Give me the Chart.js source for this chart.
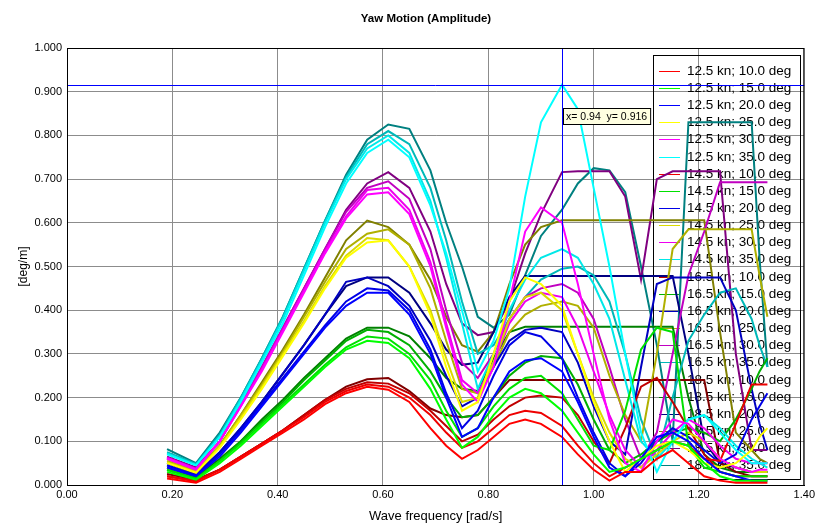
<!DOCTYPE html>
<html><head><meta charset="utf-8">
<script src="https://cdn.jsdelivr.net/npm/chart.js@4/dist/chart.umd.min.js"></script>
<style>html,body{margin:0;padding:0;background:#fff}#wrap{width:818px;height:527px;position:relative}</style>
</head><body><div id="wrap"><canvas id="c" width="818" height="527"></canvas></div>
<script>
// Wave frequencies [rad/s]
const freq = [0.19,0.245,0.29,0.33,0.37,0.41,0.45,0.49,0.53,0.57,0.61,0.65,0.69,0.72,0.75,0.78,0.81,0.84,0.87,0.90,0.94,0.97,1.00,1.03,1.06,1.09,1.12,1.15,1.18,1.21,1.24,1.27,1.30,1.315,1.33];
const speeds = ['12.5','14.5','16.5','18.5'];
const headings = ['10.0','15.0','20.0','25.0','30.0','35.0'];
const xTicks = [0,0.2,0.4,0.6,0.8,1.0,1.2,1.4];
const cursorX = 0.94, cursorY = 0.916;

// 12.5 kn
const s125_h10 = [0.015,0.005,0.03,0.06,0.09,0.12,0.15,0.185,0.21,0.225,0.218,0.19,0.13,0.09,0.06,0.08,0.11,0.14,0.15,0.14,0.11,0.07,0.035,0.01,0.03,0.03,0.06,0.08,0.05,0.02,0.01,0.005,0.005,0.005,0.005];
const s125_h15 = [0.03,0.012,0.05,0.09,0.135,0.18,0.225,0.27,0.31,0.33,0.325,0.29,0.22,0.15,0.085,0.11,0.16,0.2,0.22,0.21,0.17,0.12,0.07,0.03,0.04,0.06,0.08,0.1,0.09,0.05,0.02,0.01,0.01,0.01,0.01];
const s125_h20 = [0.04,0.02,0.065,0.12,0.18,0.24,0.3,0.36,0.41,0.44,0.44,0.39,0.3,0.2,0.11,0.13,0.2,0.26,0.285,0.29,0.26,0.19,0.11,0.04,0.02,0.06,0.11,0.12,0.1,0.06,0.03,0.02,0.01,0.01,0.01];
const s125_h25 = [0.05,0.028,0.085,0.15,0.22,0.295,0.37,0.45,0.52,0.555,0.56,0.5,0.39,0.27,0.17,0.19,0.3,0.42,0.475,0.46,0.41,0.3,0.19,0.1,0.03,0.06,0.09,0.1,0.08,0.05,0.04,0.05,0.08,0.11,0.13];
const s125_h30 = [0.06,0.035,0.1,0.18,0.26,0.35,0.44,0.53,0.61,0.665,0.67,0.62,0.5,0.36,0.23,0.19,0.27,0.42,0.58,0.635,0.6,0.46,0.3,0.15,0.05,0.03,0.1,0.15,0.14,0.1,0.06,0.04,0.03,0.035,0.035];
const s125_h35 = [0.07,0.045,0.11,0.19,0.28,0.37,0.48,0.59,0.69,0.76,0.79,0.75,0.64,0.53,0.40,0.26,0.33,0.45,0.66,0.83,0.916,0.86,0.68,0.5,0.3,0.12,0.03,0.1,0.15,0.16,0.12,0.08,0.05,0.05,0.05];
// 14.5 kn
const s145_h10 = [0.02,0.008,0.035,0.065,0.095,0.125,0.155,0.19,0.215,0.23,0.225,0.2,0.16,0.12,0.085,0.1,0.13,0.16,0.17,0.165,0.135,0.09,0.05,0.02,0.04,0.06,0.08,0.1,0.09,0.06,0.055,0.14,0.23,0.23,0.23];
const s145_h15 = [0.035,0.015,0.055,0.095,0.14,0.185,0.23,0.275,0.315,0.34,0.335,0.3,0.24,0.17,0.11,0.13,0.18,0.22,0.245,0.25,0.21,0.15,0.09,0.08,0.17,0.31,0.36,0.35,0.09,0.04,0.03,0.02,0.02,0.02,0.02];
const s145_h20 = [0.045,0.022,0.07,0.125,0.185,0.245,0.305,0.365,0.42,0.45,0.445,0.4,0.31,0.21,0.13,0.17,0.25,0.32,0.35,0.34,0.29,0.2,0.12,0.05,0.02,0.05,0.1,0.13,0.11,0.08,0.05,0.07,0.15,0.18,0.21];
const s145_h25 = [0.052,0.03,0.088,0.155,0.225,0.3,0.375,0.455,0.525,0.565,0.56,0.5,0.4,0.29,0.19,0.2,0.28,0.38,0.43,0.44,0.4,0.3,0.2,0.12,0.06,0.04,0.07,0.1,0.12,0.1,0.06,0.04,0.03,0.03,0.03];
const s145_h30 = [0.062,0.037,0.1,0.18,0.265,0.355,0.445,0.535,0.615,0.675,0.68,0.63,0.51,0.37,0.24,0.21,0.28,0.37,0.42,0.44,0.43,0.36,0.26,0.16,0.08,0.04,0.08,0.12,0.15,0.13,0.09,0.06,0.05,0.05,0.05];
const s145_h35 = [0.072,0.046,0.11,0.195,0.285,0.38,0.49,0.6,0.7,0.77,0.8,0.76,0.65,0.52,0.37,0.22,0.3,0.4,0.47,0.52,0.54,0.52,0.46,0.38,0.24,0.1,0.06,0.1,0.15,0.16,0.13,0.09,0.06,0.05,0.04];
// 16.5 kn
const s165_h10 = [0.02,0.01,0.035,0.065,0.095,0.125,0.16,0.195,0.22,0.235,0.232,0.21,0.17,0.135,0.1,0.115,0.15,0.18,0.2,0.205,0.2,0.16,0.1,0.05,0.13,0.225,0.245,0.19,0.13,0.07,0.03,0.02,0.02,0.02,0.02];
const s165_h15 = [0.035,0.015,0.055,0.1,0.145,0.19,0.24,0.285,0.33,0.355,0.35,0.32,0.26,0.2,0.155,0.16,0.2,0.25,0.28,0.295,0.29,0.23,0.15,0.08,0.05,0.07,0.1,0.12,0.13,0.12,0.1,0.15,0.22,0.26,0.29];
const s165_h20 = [0.045,0.022,0.075,0.13,0.19,0.255,0.32,0.39,0.465,0.475,0.455,0.41,0.33,0.25,0.18,0.2,0.27,0.33,0.355,0.36,0.35,0.28,0.18,0.1,0.07,0.27,0.46,0.475,0.475,0.475,0.475,0.4,0.22,0.14,0.08];
const s165_h25 = [0.055,0.032,0.09,0.16,0.23,0.305,0.385,0.465,0.54,0.575,0.585,0.55,0.45,0.33,0.22,0.21,0.27,0.35,0.39,0.41,0.42,0.41,0.36,0.25,0.16,0.1,0.3,0.54,0.585,0.585,0.585,0.585,0.585,0.48,0.385];
const s165_h30 = [0.063,0.038,0.1,0.185,0.27,0.36,0.45,0.54,0.625,0.68,0.695,0.655,0.54,0.4,0.28,0.245,0.3,0.38,0.43,0.45,0.46,0.44,0.38,0.27,0.15,0.06,0.12,0.3,0.48,0.58,0.693,0.693,0.693,0.693,0.693];
const s165_h35 = [0.075,0.048,0.115,0.2,0.29,0.385,0.495,0.605,0.705,0.78,0.81,0.78,0.68,0.56,0.42,0.3,0.32,0.38,0.43,0.47,0.495,0.5,0.48,0.42,0.3,0.15,0.06,0.2,0.33,0.39,0.44,0.45,0.38,0.32,0.27];
// 18.5 kn
const s185_h10 = [0.025,0.012,0.035,0.065,0.095,0.125,0.16,0.195,0.225,0.242,0.245,0.215,0.175,0.16,0.155,0.16,0.2,0.24,0.24,0.24,0.24,0.24,0.24,0.24,0.24,0.24,0.24,0.24,0.24,0.24,0.05,0.03,0.02,0.02,0.02];
const s185_h15 = [0.04,0.018,0.06,0.1,0.15,0.195,0.245,0.29,0.335,0.36,0.36,0.34,0.29,0.245,0.22,0.215,0.29,0.35,0.362,0.362,0.362,0.362,0.362,0.362,0.362,0.362,0.362,0.362,0.2,0.07,0.04,0.03,0.03,0.03,0.03];
const s185_h20 = [0.05,0.025,0.075,0.13,0.19,0.255,0.32,0.39,0.455,0.475,0.475,0.44,0.37,0.31,0.275,0.28,0.35,0.43,0.478,0.478,0.478,0.478,0.478,0.478,0.478,0.478,0.478,0.478,0.3,0.1,0.05,0.04,0.03,0.03,0.03];
const s185_h25 = [0.06,0.035,0.09,0.16,0.235,0.31,0.39,0.475,0.56,0.605,0.59,0.55,0.47,0.385,0.32,0.305,0.35,0.46,0.55,0.59,0.606,0.606,0.606,0.606,0.606,0.606,0.606,0.606,0.606,0.606,0.35,0.12,0.08,0.06,0.05];
const s185_h30 = [0.065,0.04,0.1,0.185,0.27,0.36,0.45,0.54,0.63,0.69,0.716,0.68,0.58,0.46,0.37,0.343,0.35,0.42,0.53,0.62,0.716,0.718,0.718,0.718,0.66,0.47,0.7,0.718,0.718,0.718,0.718,0.3,0.08,0.08,0.08];
const s185_h35 = [0.082,0.05,0.12,0.2,0.29,0.385,0.495,0.605,0.71,0.79,0.825,0.815,0.72,0.6,0.5,0.385,0.36,0.39,0.48,0.57,0.63,0.69,0.725,0.72,0.67,0.5,0.32,0.1,0.83,0.83,0.83,0.83,0.83,0.52,0.27];

const seriesValues = [
  s125_h10,s125_h15,s125_h20,s125_h25,s125_h30,s125_h35,
  s145_h10,s145_h15,s145_h20,s145_h25,s145_h30,s145_h35,
  s165_h10,s165_h15,s165_h20,s165_h25,s165_h30,s165_h35,
  s185_h10,s185_h15,s185_h20,s185_h25,s185_h30,s185_h35
];
const seriesColors = [
  '#ff0000','#00ff00','#0000ff','#ffff00','#ff00ff','#00ffff',
  '#ee0000','#00e000','#0000e6','#dada00','#ee00ee','#00e8e8',
  '#c00000','#00b000','#0000c0','#b0b000','#c000c0','#00b8b8',
  '#800000','#008000','#000080','#808000','#800080','#008080'
];

const datasets = [];
speeds.forEach((s, si) => headings.forEach((h, hi) => {
  const k = si * headings.length + hi;
  datasets.push({
    label: s + ' kn; ' + h + ' deg',
    data: freq.map((f, i) => ({x: f, y: seriesValues[k][i]})),
    borderColor: seriesColors[k],
    backgroundColor: seriesColors[k],
    borderWidth: 2,
    pointRadius: 0,
    tension: 0,
    fill: false
  });
}));

const FONT = '"Liberation Sans", Arial, sans-serif';

const framePlugin = {
  id: 'frame',
  beforeDatasetsDraw(chart) {
    const {ctx} = chart;
    ctx.save();
    // legend (transparent, under the curves)
    const lx = 653, ly = 55, lw = 147, lh = 424;
    ctx.strokeStyle = '#000'; ctx.lineWidth = 1;
    ctx.strokeRect(lx + 0.5, ly + 0.5, lw, lh);
    ctx.font = '13.5px ' + FONT;
    ctx.textBaseline = 'middle'; ctx.textAlign = 'left'; ctx.fillStyle = '#000';
    chart.data.datasets.forEach((d, i) => {
      const y = Math.round(70.7 + i * 17.16) + 0.5;
      ctx.strokeStyle = d.borderColor; ctx.lineWidth = 1;
      ctx.beginPath(); ctx.moveTo(659, y); ctx.lineTo(680, y); ctx.stroke();
      ctx.fillText(d.label, 687, y);
    });
    ctx.restore();
  },
  afterDatasetsDraw(chart) {
    const {ctx, chartArea: a, scales: {x, y}} = chart;
    ctx.save();
    const px = Math.round(x.getPixelForValue(cursorX)) + 0.5;
    const py = Math.round(y.getPixelForValue(cursorY)) + 0.5;
    ctx.strokeStyle = '#0000ff'; ctx.lineWidth = 1;
    ctx.beginPath(); ctx.moveTo(px, a.top); ctx.lineTo(px, a.bottom); ctx.stroke();
    ctx.beginPath(); ctx.moveTo(a.left, py); ctx.lineTo(a.right, py); ctx.stroke();
    // frame
    ctx.strokeStyle = '#000';
    ctx.strokeRect(a.left + 0.5, a.top + 0.5, a.right - a.left - 1, a.bottom - a.top);
    // readout box
    const txt = 'x= ' + cursorX.toFixed(2) + '  y= ' + cursorY.toFixed(3);
    ctx.font = '10.5px ' + FONT;
    const tw = ctx.measureText(txt).width;
    const bx = px + 0.5, by = 108;
    ctx.fillStyle = '#ffffe1';
    ctx.fillRect(bx, by, tw + 6, 16);
    ctx.strokeStyle = '#000';
    ctx.strokeRect(bx + 0.5, by + 0.5, tw + 6, 16);
    ctx.fillStyle = '#000'; ctx.textBaseline = 'middle'; ctx.textAlign = 'left';
    ctx.fillText(txt, bx + 3, by + 9);
    // title
    ctx.font = 'bold 11.5px ' + FONT;
    ctx.textAlign = 'center';
    ctx.fillText('Yaw Motion (Amplitude)', 426, 19);
    ctx.restore();
  }
};

new Chart(document.getElementById('c'), {
  type: 'scatter',
  data: {datasets},
  options: {
    responsive: false,
    animation: false,
    devicePixelRatio: 1,
    showLine: true,
    layout: {padding: {top: 48, right: 12, left: 0, bottom: 0}},
    plugins: {legend: {display: false}, tooltip: {enabled: false}, title: {display: false}},
    elements: {line: {borderCapStyle: 'butt'}},
    scales: {
      x: {
        type: 'linear', min: 0, max: 1.4,
        afterBuildTicks: s => { s.ticks = xTicks.map(v => ({value: v})); },
        afterFit: s => { s.height = 42; },
        ticks: {callback: v => Number(v).toFixed(2), color: '#000', font: {family: FONT, size: 11}, padding: 3, maxRotation: 0},
        grid: {color: '#8c8c8c', drawTicks: false},
        border: {color: '#000'},
        title: {display: true, text: 'Wave frequency [rad/s]', color: '#000', font: {family: FONT, size: 13}, padding: {top: 0, bottom: 3}}
      },
      y: {
        min: 0, max: 1,
        afterFit: s => { s.width = 67; },
        ticks: {stepSize: 0.1, callback: v => Number(v).toFixed(3), color: '#000', font: {family: FONT, size: 11}, padding: 5},
        grid: {color: '#8c8c8c', drawTicks: false},
        border: {color: '#000'},
        title: {display: true, text: '[deg/m]', color: '#000', font: {family: FONT, size: 12}, padding: {top: 16, bottom: 0}}
      }
    }
  },
  plugins: [framePlugin]
});
</script>
</body></html>
